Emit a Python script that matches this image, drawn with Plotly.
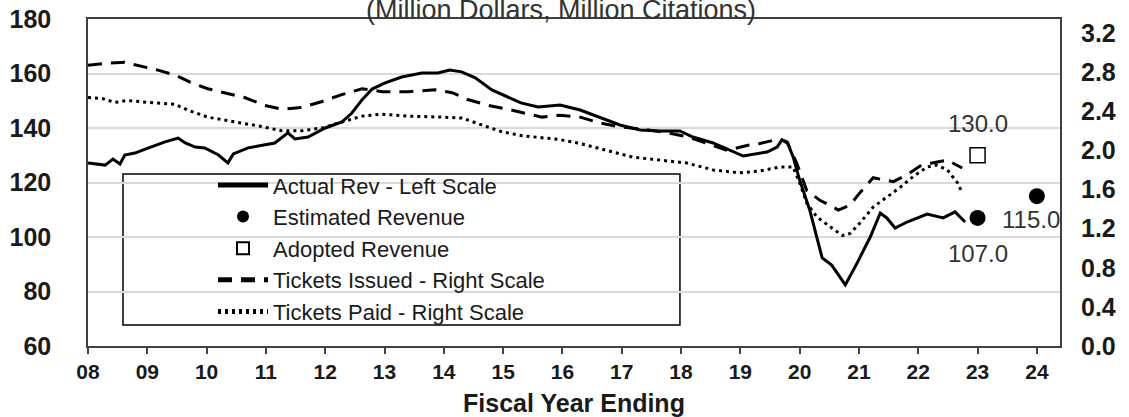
import plotly.graph_objects as go

# Actual revenue (million $, left scale)
rev_year = [8.0, 8.29, 8.42, 8.54, 8.62, 8.79, 9.0, 9.30, 9.52, 9.64, 9.81, 9.97, 10.2, 10.36,
            10.45, 10.7, 11.15, 11.37, 11.49, 11.71, 12.0, 12.28, 12.45, 12.62, 12.79, 13.0,
            13.29, 13.63, 13.9, 14.1, 14.3, 14.53, 14.81, 15.08, 15.3, 15.59, 15.96, 16.3,
            16.63, 16.97, 17.31, 17.65, 17.98, 18.2, 18.54, 18.83, 19.05, 19.45, 19.62, 19.7,
            19.79, 19.89, 20.0, 20.17, 20.38, 20.54, 20.77, 20.97, 21.19, 21.36, 21.47, 21.61,
            21.81, 22.15, 22.42, 22.62, 22.79]
rev_val = [127.2, 126.4, 128.6, 126.8, 130.1, 130.8, 132.5, 134.9, 136.3, 134.5, 133.0, 132.7,
           130.1, 127.2, 130.5, 132.7, 134.5, 138.2, 136.0, 136.7, 140.0, 142.2, 145.5, 150.3,
           154.3, 156.5, 158.7, 160.2, 160.2, 161.3, 160.6, 158.4, 154.0, 151.4, 149.2, 147.7,
           148.4, 146.6, 144.0, 141.1, 139.3, 138.9, 138.9, 136.7, 134.5, 131.9, 129.7, 131.2,
           133.0, 135.6, 134.9, 129.4, 120.9, 109.9, 92.3, 89.7, 82.4, 90.5, 100.0, 108.8,
           107.0, 103.3, 105.5, 108.4, 107.0, 109.2, 105.5]

# estimated / adopted revenue
est_year = [23, 24]
est_val = [107.0, 115.0]
adopt_year = [23]
adopt_val = [130.0]

# tickets issued (million citations, right scale)
iss_year = [8.0, 8.29, 8.62, 8.91, 9.18, 9.47, 9.75, 10.02, 10.3, 10.64, 10.98, 11.27, 11.61,
            11.95, 12.28, 12.62, 12.96, 13.4, 13.85, 14.14, 14.4, 14.75, 15.08, 15.42, 15.66,
            15.96, 16.3, 16.63, 16.97, 17.31, 17.76, 18.1, 18.44, 18.78, 19.11, 19.33, 19.67,
            19.8, 19.95, 20.12, 20.34, 20.51, 20.65, 20.85, 21.02, 21.24, 21.58, 21.81, 22.03,
            22.23, 22.49, 22.74]
iss_val = [2.87, 2.89, 2.90, 2.86, 2.82, 2.77, 2.69, 2.63, 2.59, 2.54, 2.46, 2.42, 2.44, 2.50,
           2.57, 2.63, 2.60, 2.60, 2.62, 2.59, 2.52, 2.46, 2.42, 2.37, 2.34, 2.36, 2.34, 2.28,
           2.24, 2.22, 2.18, 2.14, 2.07, 2.00, 2.05, 2.07, 2.12, 2.07, 1.87, 1.59, 1.49, 1.44,
           1.39, 1.44, 1.57, 1.72, 1.68, 1.75, 1.84, 1.87, 1.90, 1.82]

# tickets paid (right scale)
paid_year = [8.0, 8.24, 8.45, 8.67, 9.01, 9.47, 9.69, 10.02, 10.48, 10.87, 11.27, 11.61, 11.95,
             12.28, 12.62, 12.96, 13.4, 13.97, 14.31, 14.64, 14.98, 15.32, 15.66, 15.96, 16.3,
             16.75, 17.19, 17.65, 18.1, 18.54, 18.99, 19.33, 19.67, 19.89, 20.0, 20.12, 20.29,
             20.51, 20.72, 20.85, 21.02, 21.24, 21.47, 21.69, 21.91, 22.15, 22.31, 22.49, 22.66,
             22.74]
paid_val = [2.54, 2.53, 2.49, 2.51, 2.49, 2.47, 2.41, 2.34, 2.29, 2.25, 2.20, 2.20, 2.23, 2.29,
            2.35, 2.37, 2.35, 2.34, 2.33, 2.26, 2.19, 2.15, 2.13, 2.11, 2.07, 2.00, 1.93, 1.90,
            1.87, 1.80, 1.77, 1.79, 1.83, 1.83, 1.67, 1.46, 1.32, 1.22, 1.13, 1.15, 1.26, 1.42,
            1.52, 1.62, 1.73, 1.83, 1.85, 1.80, 1.67, 1.57]

year_ticks = list(range(8, 25))
year_labels = ["%02d" % y for y in year_ticks]

FONT = "Liberation Sans, Arial, sans-serif"
INK = "#1a1a1a"

fig = go.Figure()
fig.add_trace(go.Scatter(x=rev_year, y=rev_val, mode="lines", name="Actual Rev - Left Scale",
                         line=dict(color="black", width=3)))
fig.add_trace(go.Scatter(x=est_year, y=est_val, mode="markers", name="Estimated Revenue",
                         marker=dict(color="black", size=16, symbol="circle")))
fig.add_trace(go.Scatter(x=adopt_year, y=adopt_val, mode="markers", name="Adopted Revenue",
                         marker=dict(color="white", size=15, symbol="square",
                                     line=dict(color="black", width=1.5))))
fig.add_trace(go.Scatter(x=iss_year, y=iss_val, mode="lines", name="Tickets Issued - Right Scale",
                         yaxis="y2", line=dict(color="black", width=3, dash="14px,9px")))
fig.add_trace(go.Scatter(x=paid_year, y=paid_val, mode="lines", name="Tickets Paid - Right Scale",
                         yaxis="y2", line=dict(color="black", width=3, dash="3px,4px")))

# value labels
for x, y, dx, dy in [(23, 107.0, 0, -36), (24, 115.0, -6, -23), (23, 130.0, 0, 32)]:
    fig.add_annotation(x=x, y=y, xref="x", yref="y", text="%.1f" % y, showarrow=False,
                       xshift=dx, yshift=dy, font=dict(family=FONT, size=24, color="#333333"))

# title, sits at the very top edge like the original
fig.add_annotation(x=0.487, y=1.029, xref="paper", yref="paper", yanchor="middle",
                   text="(Million Dollars, Million Citations)", showarrow=False,
                   font=dict(family=FONT, size=27, color="#333333"))

# legend frame
fig.add_shape(type="rect", xref="paper", yref="paper", x0=0.036, x1=0.609, y0=0.064, y1=0.526,
              fillcolor="white", line=dict(color="black", width=1.5), layer="between")

fig.update_layout(
    width=1129, height=417,
    margin=dict(l=88, r=69, t=19, b=71),
    plot_bgcolor="white", paper_bgcolor="white",
    font=dict(family=FONT, color=INK),
    legend=dict(x=0.1286, y=0.556, xanchor="left", yanchor="top", bgcolor="rgba(0,0,0,0)",
                borderwidth=0, font=dict(size=22, color=INK), itemwidth=50,
                itemsizing="constant", tracegroupgap=0),
    xaxis=dict(range=[8, 24.39], tickvals=year_ticks, ticktext=year_labels,
               ticks="outside", ticklen=6, tickcolor="#404040", tickwidth=1.5,
               showgrid=False, zeroline=False, showline=True, mirror=True,
               linecolor="#404040", linewidth=1.5, automargin=False,
               tickfont=dict(size=21, weight="bold", color=INK),
               title=dict(text="Fiscal Year Ending", standoff=15,
                          font=dict(size=25, weight="bold", color=INK))),
    yaxis=dict(range=[60, 180], dtick=20, showgrid=True, gridcolor="#d9d9d9", gridwidth=1.5,
               zeroline=False, showline=True, mirror=True, linecolor="#404040", linewidth=1.5,
               ticks="", ticklabelstandoff=30, automargin=False,
               tickfont=dict(size=25, weight="bold", color=INK)),
    yaxis2=dict(range=[0, 3.343], dtick=0.4, tickformat=".1f", overlaying="y", side="right",
                showgrid=False, zeroline=False, showline=False, ticks="", ticklabelstandoff=20,
                automargin=False, tickfont=dict(size=25, weight="bold", color=INK)),
    showlegend=True,
)

fig.write_html("out.html", config={"displayModeBar": False},
               post_script="document.body.style.margin='0';")
